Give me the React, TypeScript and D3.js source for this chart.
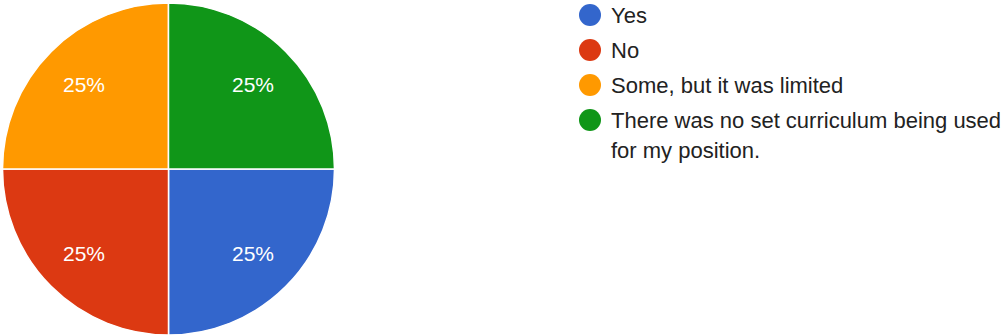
import { useMemo } from "react";
import * as d3 from "d3";

// Survey answers, in the order Google Forms lists them
const LABELS = [
  "Yes",
  "No",
  "Some, but it was limited",
  "There was no set curriculum being used for my position.",
];
const VALUES = [1, 1, 1, 1];
const COLORS = ["#3366cc", "#dc3912", "#ff9900", "#109618"];

const WIDTH = 1004;
const HEIGHT = 335;
const CENTER = { x: 168.5, y: 169 };
const RADIUS = 166;
const FONT = "'Liberation Sans', Arial, sans-serif";

// Legend layout
const LEGEND_X = 590;
const LEGEND_TOP = 15;
const ROW_GAP = 35;
const LINE_GAP = 30;
const LEGEND_FONT = 22;
const LEGEND_MAX_W = 400;

// Break a label into lines that fit the legend width
function wrap(text: string, maxWidth: number): string[] {
  const ctx = document.createElement("canvas").getContext("2d");
  if (!ctx) return [text];
  ctx.font = `${LEGEND_FONT}px ${FONT}`;
  const lines: string[] = [];
  let line = "";
  for (const word of text.split(" ")) {
    const test = line ? line + " " + word : word;
    if (line && ctx.measureText(test).width > maxWidth) {
      lines.push(line);
      line = word;
    } else {
      line = test;
    }
  }
  if (line) lines.push(line);
  return lines;
}

export default function App() {
  const total = d3.sum(VALUES);

  const arcs = useMemo(() => {
    // first slice starts at 3 o'clock, going clockwise
    const pie = d3
      .pie<number>()
      .sort(null)
      .startAngle(Math.PI / 2)
      .endAngle(Math.PI / 2 + 2 * Math.PI);
    return pie(VALUES);
  }, []);

  const arcGen = d3.arc<d3.PieArcDatum<number>>().innerRadius(0).outerRadius(RADIUS);
  const labelArc = d3
    .arc<d3.PieArcDatum<number>>()
    .innerRadius(RADIUS * 0.72)
    .outerRadius(RADIUS * 0.72);

  const legendRows = useMemo(() => {
    let y = LEGEND_TOP;
    return LABELS.map((label, i) => {
      const lines = wrap(label, LEGEND_MAX_W);
      const row = { label, lines, y, color: COLORS[i] };
      y += ROW_GAP + (lines.length - 1) * LINE_GAP;
      return row;
    });
  }, []);

  return (
    <svg
      width={WIDTH}
      height={HEIGHT}
      style={{ position: "absolute", left: 0, top: 0, background: "#fff" }}
    >
      <g transform={`translate(${CENTER.x},${CENTER.y})`}>
        {arcs.map((a, i) => (
          <path
            key={LABELS[i]}
            d={arcGen(a) || undefined}
            fill={COLORS[i]}
            stroke="#fff"
            strokeWidth={1.5}
          />
        ))}
        {arcs.map((a, i) => {
          const [x, y] = labelArc.centroid(a);
          return (
            <text
              key={"l" + i}
              x={x}
              y={y}
              dy="0.36em"
              textAnchor="middle"
              fill="#fff"
              fontFamily={FONT}
              fontSize={21}
            >
              {`${Math.round((VALUES[i] / total) * 100)}%`}
            </text>
          );
        })}
      </g>

      {/* Legend */}
      {legendRows.map((row) => (
        <g key={row.label}>
          <circle cx={LEGEND_X} cy={row.y} r={11} fill={row.color} />
          <text
            x={LEGEND_X + 21}
            y={row.y + 8}
            fill="#222"
            fontFamily={FONT}
            fontSize={LEGEND_FONT}
          >
            {row.lines.map((ln, j) => (
              <tspan key={j} x={LEGEND_X + 21} dy={j === 0 ? 0 : LINE_GAP}>
                {ln}
              </tspan>
            ))}
          </text>
        </g>
      ))}
    </svg>
  );
}
